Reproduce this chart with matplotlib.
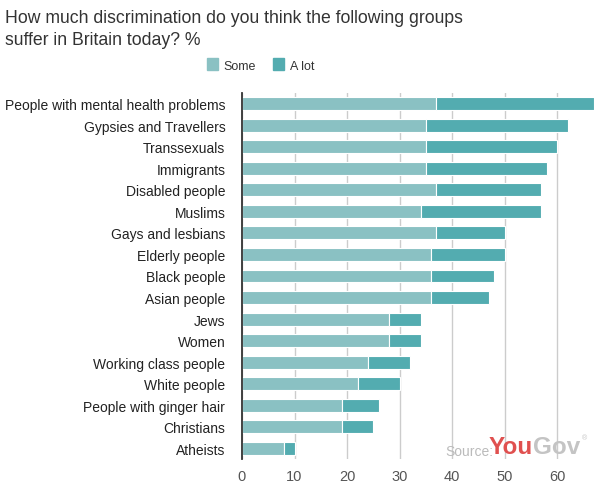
# YouGov discrimination chart
import matplotlib
matplotlib.use('Agg')
import matplotlib.pyplot as plt
import matplotlib.patches as mpatches
import matplotlib.transforms as mtransforms
import numpy as np

groups = ['People with mental health problems', 'Gypsies and Travellers', 'Transsexuals',
          'Immigrants', 'Disabled people', 'Muslims', 'Gays and lesbians', 'Elderly people',
          'Black people', 'Asian people', 'Jews', 'Women', 'Working class people',
          'White people', 'People with ginger hair', 'Christians', 'Atheists']
some = [37, 35, 35, 35, 37, 34, 37, 36, 36, 36, 28, 28, 24, 22, 19, 19, 8]
a_lot = [30, 27, 25, 23, 20, 23, 13, 14, 12, 11, 6, 6, 8, 8, 7, 6, 2]
xticks = [0, 10, 20, 30, 40, 50, 60]

some_color = '#8AC1C3'
alot_color = '#53ACB0'

matplotlib.rc('font', family=['Liberation Sans', 'DejaVu Sans'])

fig = plt.figure(figsize=(6.13, 4.89), dpi=100)
ax = fig.add_axes([242/613, 1 - 460/489, (594-242)/613, (460-94)/489])

y = np.arange(len(groups))
ax.barh(y, some, height=0.6, color=some_color, edgecolor='white', linewidth=0.8, zorder=3)
ax.barh(y, a_lot, left=some, height=0.6, color=alot_color, edgecolor='white', linewidth=0.8, zorder=3)

ax.set_xlim(0, 67)
ax.set_ylim(len(groups) - 0.5, -0.5)
ax.set_yticks(y)
ax.set_yticklabels(groups, fontsize=10, color='#222222')
ax.set_xticks(xticks)
ax.set_xticklabels([str(t) for t in xticks], fontsize=10.5, color='#555555')
ax.tick_params(axis='both', length=0)
ax.tick_params(axis='y', pad=12)
ax.tick_params(axis='x', pad=7)

ax.grid(axis='x', color='#CCCCCC', linewidth=1, zorder=0)
for side in ['top', 'right', 'bottom']:
    ax.spines[side].set_visible(False)
ax.spines['left'].set_color('#333333')
ax.spines['left'].set_linewidth(1.3)
ax.spines['left'].set_zorder(4)

# Title
fig.text(5/613, 1 - 10/489, 'How much discrimination do you think the following groups\nsuffer in Britain today? %',
         fontsize=12.7, color='#333333', va='top', ha='left', linespacing=1.38)

# Legend
handles = [mpatches.Patch(color=some_color, label='Some'),
           mpatches.Patch(color=alot_color, label='A lot')]
fig.legend(handles=handles, loc='center left', bbox_to_anchor=(196/613, 1 - 66/489), ncol=2,
           frameon=False, fontsize=9, handlelength=0.85, handleheight=1.1,
           handletextpad=0.45, columnspacing=1.4, labelcolor='#333333')

# Source logo
fig.text(445/613, 1 - 452/489, 'Source:', fontsize=10, color='#BBBBBB', va='center', ha='left')
you = fig.text(489/613, 1 - 448/489, 'You', fontsize=17.5, color='#E0504F', fontweight='bold',
               va='center', ha='left')
fig.canvas.draw()
bb = you.get_window_extent()
gov = fig.text(bb.x1, (bb.y0 + bb.y1) / 2, 'Gov', fontsize=17.5, color='#C4C4C4', fontweight='bold',
               va='center', ha='left', transform=mtransforms.IdentityTransform())
fig.canvas.draw()
bb2 = gov.get_window_extent()
fig.text(bb2.x1 + 1, bb2.y1 - 2, '®', fontsize=5, color='#C4C4C4', va='center', ha='left',
         transform=mtransforms.IdentityTransform())

fig.savefig('out.png', dpi=100)
